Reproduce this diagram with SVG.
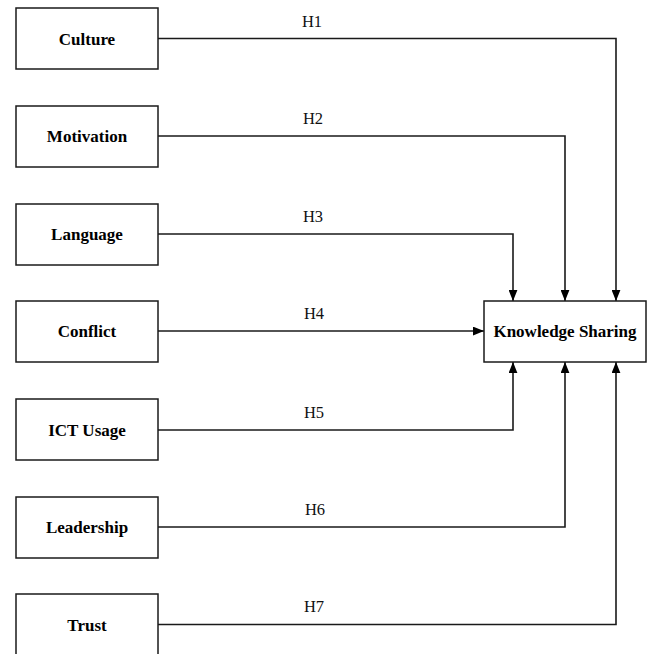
<svg xmlns="http://www.w3.org/2000/svg" width="655" height="654" viewBox="0 0 655 654">
  <style>
    .box { fill: #fff; stroke: #1a1a1a; stroke-width: 1.5; }
    .name { font-family: "Liberation Serif", "Times New Roman", serif; font-weight: bold; font-size: 17px; fill: #000; text-anchor: middle; }
    .wire { fill: none; stroke: #1a1a1a; stroke-width: 1.6; }
    .hyp { font-family: "Liberation Serif", "Times New Roman", serif; font-size: 16.5px; fill: #111; text-anchor: middle; }
  </style>
  <defs>
    <marker id="head" viewBox="0 0 10 8" refX="10" refY="4" markerWidth="11" markerHeight="9" markerUnits="userSpaceOnUse" orient="auto">
      <path d="M0,0 L10,4 L0,8 Z" fill="#000"/>
    </marker>
  </defs>
  <rect width="655" height="654" fill="#fff"/>

  <!-- connectors -->
  <g id="connectors">
    <path class="wire" d="M158,38.5 H616 V301" marker-end="url(#head)"/>
    <path class="wire" d="M158,136 H565 V301" marker-end="url(#head)"/>
    <path class="wire" d="M158,234 H513 V301" marker-end="url(#head)"/>
    <path class="wire" d="M158,331 H484" marker-end="url(#head)"/>
    <path class="wire" d="M158,430 H513 V362" marker-end="url(#head)"/>
    <path class="wire" d="M158,527 H565 V362" marker-end="url(#head)"/>
    <path class="wire" d="M158,624.5 H616 V362" marker-end="url(#head)"/>
    <text class="hyp" x="312" y="27">H1</text>
    <text class="hyp" x="313" y="124">H2</text>
    <text class="hyp" x="313" y="222">H3</text>
    <text class="hyp" x="314" y="319">H4</text>
    <text class="hyp" x="314" y="418">H5</text>
    <text class="hyp" x="315" y="515">H6</text>
    <text class="hyp" x="314" y="612">H7</text>
  </g>

  <!-- factor nodes -->
  <g id="culture"><rect class="box" x="16" y="8" width="142" height="61"/><text class="name" x="87" y="44.5">Culture</text></g>
  <g id="motivation"><rect class="box" x="16" y="106" width="142" height="61"/><text class="name" x="87" y="142">Motivation</text></g>
  <g id="language"><rect class="box" x="16" y="204" width="142" height="61"/><text class="name" x="87" y="240">Language</text></g>
  <g id="conflict"><rect class="box" x="16" y="301" width="142" height="61"/><text class="name" x="87" y="337">Conflict</text></g>
  <g id="ict-usage"><rect class="box" x="16" y="399" width="142" height="61"/><text class="name" x="87" y="435.5">ICT Usage</text></g>
  <g id="leadership"><rect class="box" x="16" y="497" width="142" height="61"/><text class="name" x="87" y="533">Leadership</text></g>
  <g id="trust"><rect class="box" x="16" y="594" width="142" height="70"/><text class="name" x="87" y="631">Trust</text></g>

  <!-- outcome node -->
  <g id="knowledge-sharing"><rect class="box" x="484" y="301" width="162" height="61"/><text class="name" x="565" y="337">Knowledge Sharing</text></g>
</svg>
